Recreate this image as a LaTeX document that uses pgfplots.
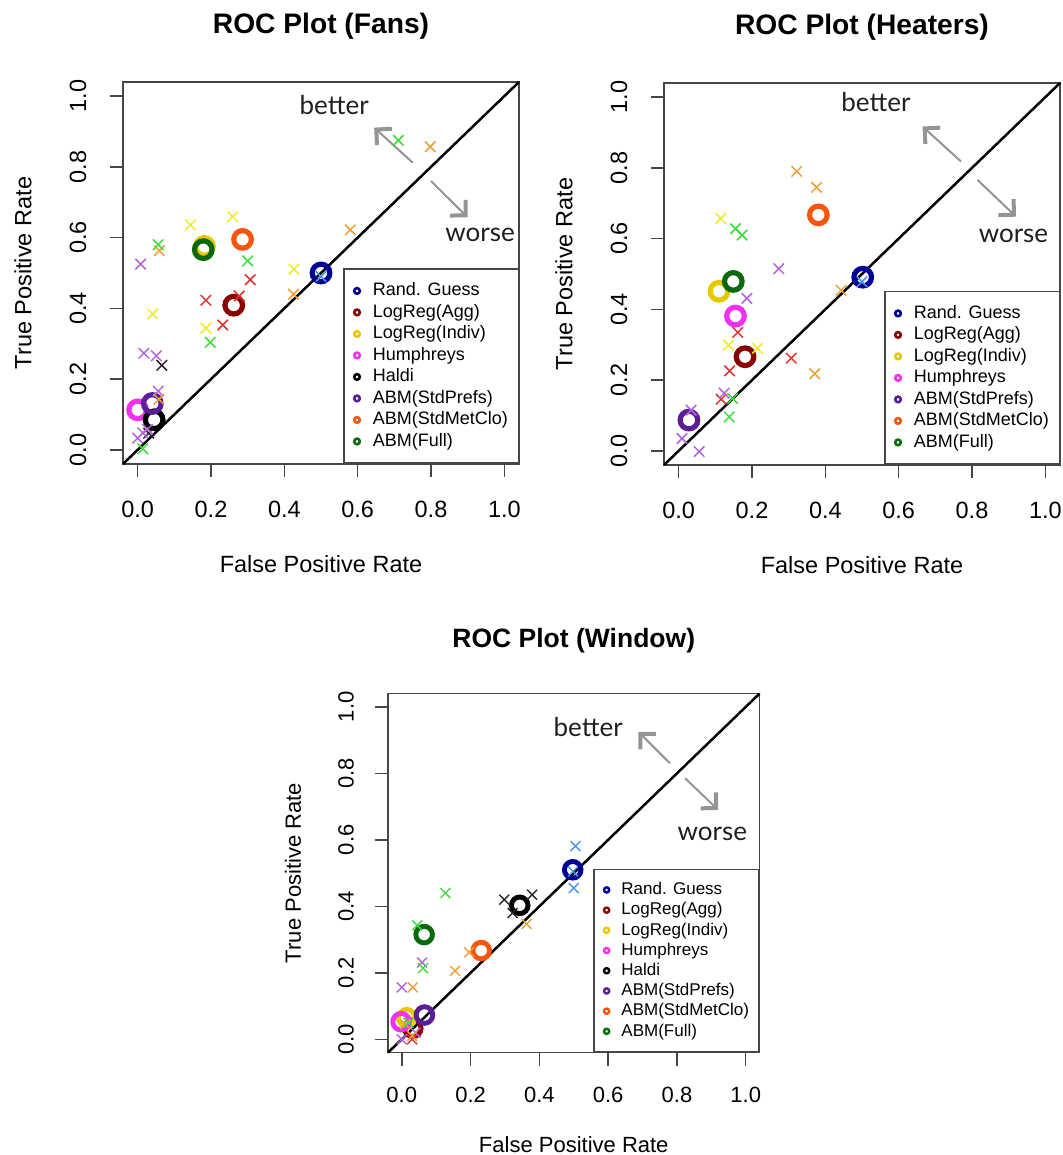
\documentclass[border=0pt]{standalone}
\usepackage{fontspec}
\setmainfont{Liberation Sans}
\newfontfamily\lightfont{Lato}
\usepackage{pgfplots}
\pgfplotsset{compat=1.18}
\usetikzlibrary{arrows.meta}

\definecolor{cRand}{RGB}{0,0,150}
\definecolor{cAgg}{RGB}{139,0,0}
\definecolor{cInd}{RGB}{230,200,0}
\definecolor{cHum}{RGB}{240,50,240}
\definecolor{cHal}{RGB}{0,0,0}
\definecolor{cPref}{RGB}{90,30,150}
\definecolor{cMet}{RGB}{245,85,15}
\definecolor{cFull}{RGB}{10,105,10}
\definecolor{xRand}{RGB}{70,150,230}
\definecolor{xAgg}{RGB}{220,50,50}
\definecolor{xInd}{RGB}{238,235,40}
\definecolor{xHal}{RGB}{40,40,40}
\definecolor{xPref}{RGB}{180,100,220}
\definecolor{xMet}{RGB}{235,160,60}
\definecolor{xFull}{RGB}{60,220,60}
\definecolor{boxc}{RGB}{70,70,70}

\pgfplotsset{
  roc/.style={
    scale only axis, xmin=-0.04, xmax=1.04, ymin=-0.04, ymax=1.04,
    xtick={0,0.2,0.4,0.6,0.8,1}, ytick={0,0.2,0.4,0.6,0.8,1},
    xticklabels={}, yticklabels={},
    tick align=outside, tick pos=left, major tick length=6.5pt,
    axis line style={draw=boxc, line width=0.75pt},
    tick style={draw=boxc, line width=0.75pt},
    clip=false,
    legend cell align=left,
    legend style={at={(rel axis cs:1,0)}, anchor=south east, draw=boxc,
      line width=0.75pt, fill=white, font=\fontsize{9}{10}\selectfont,
      inner xsep=5.2pt, inner ysep=6.4pt, row sep=1.75pt, column sep=6.5pt,
      nodes={inner sep=0pt, text height=7pt, text depth=2pt}},
    legend image code/.code={\draw[mark size=1.4pt, line width=1.3pt] plot coordinates {(0cm,0cm)};},
  },
  roc3/.style={
    legend style={font=\fontsize{8.5}{9.5}\selectfont,
      inner xsep=4.9pt, inner ysep=6pt, row sep=1.6pt, column sep=6.1pt,
      nodes={inner sep=0pt, text height=6.6pt, text depth=1.9pt}},
    legend image code/.code={\draw[mark size=1.3pt, line width=1.2pt] plot coordinates {(0cm,0cm)};},
  },
  circ/.style={only marks, mark=o, mark size=4.4pt, line width=2.6pt, color=#1},
  crs/.style={only marks, mark=x, mark size=3.7pt, line width=0.75pt, color=#1, forget plot},
  circs/.style={only marks, mark=o, mark size=4.15pt, line width=2.45pt, color=#1},
  crss/.style={only marks, mark=x, mark size=3.5pt, line width=0.7pt, color=#1, forget plot},
  diag/.style={black, line width=1.25pt, forget plot},
}
\tikzset{
  arr/.style={draw=black!42, line width=1pt, -{Straight Barb[length=5.5pt,width=11pt,line width=2pt]}},
  bw/.style={font=\lightfont\fontsize{13}{15}\selectfont, text=black!88},
}

\begin{document}
\begin{tikzpicture}
\useasboundingbox (0,0) rectangle (531.5pt,577.5pt);

%% ---------------- Fans ----------------
\begin{axis}[roc, at={(61.5pt,345.5pt)}, anchor=south west, width=198pt, height=191pt,
  title={ROC Plot (Fans)}, title style={at={(axis description cs:0.5,1.115)}, anchor=center, font=\fontsize{14.1}{17}\selectfont\bfseries},
  xlabel={False Positive Rate}, xlabel style={at={(axis description cs:0.5,-0.2618)}, anchor=center, font=\fontsize{11.75}{14}\selectfont},
  ylabel={True Positive Rate}, ylabel style={at={(axis description cs:-0.2525,0.5)}, anchor=center, font=\fontsize{11.75}{14}\selectfont}]
\addplot[diag] coordinates {(-0.04,-0.04) (1.04,1.04)};
\addplot[circ=cRand] coordinates {(0.5,0.5)}; \addlegendentry{Rand. Guess}
\addplot[crs=xRand] coordinates {(0.5,0.49)};
\addplot[circ=cAgg] coordinates {(0.262,0.409)}; \addlegendentry{LogReg(Agg)}
\addplot[crs=xAgg] coordinates {(0.307,0.481) (0.186,0.423) (0.277,0.435) (0.232,0.353)};
\addplot[circ=cInd] coordinates {(0.182,0.575)}; \addlegendentry{LogReg(Indiv)}
\addplot[crs=xInd] coordinates {(0.144,0.636) (0.259,0.659) (0.426,0.511) (0.041,0.384) (0.186,0.344)};
\addplot[circ=cHum] coordinates {(0.0,0.113)}; \addlegendentry{Humphreys}
\addplot[circ=cHal] coordinates {(0.045,0.085)}; \addlegendentry{Haldi}
\addplot[crs=xHal] coordinates {(0.066,0.239) (0.03,0.047)};
\addplot[circ=cPref] coordinates {(0.04,0.131)}; \addlegendentry{ABM(StdPrefs)}
\addplot[crs=xPref] coordinates {(0.008,0.525) (0.017,0.273) (0.051,0.266) (0.056,0.166) (0.0,0.033) (0.014,0.048) (0.027,0.058)};
\addplot[circ=cMet] coordinates {(0.286,0.595)}; \addlegendentry{ABM(StdMetClo)}
\addplot[crs=xMet] coordinates {(0.798,0.857) (0.58,0.622) (0.059,0.563) (0.425,0.440) (0.058,0.143)};
\addplot[circ=cFull] coordinates {(0.179,0.566)}; \addlegendentry{ABM(Full)}
\addplot[crs=xFull] coordinates {(0.711,0.875) (0.056,0.580) (0.30,0.534) (0.198,0.304) (0.014,0.003)};
\pgfplotsinvokeforeach{0.0,0.2,0.4,0.6,0.8,1.0}{
  \node[font=\fontsize{11.75}{14}\selectfont, anchor=center] at (axis cs:#1,-0.1672) {#1};
  \node[font=\fontsize{11.75}{14}\selectfont, anchor=center, rotate=90] at (axis cs:-0.1627,#1) {#1};
}
\draw[arr] (axis cs:0.75,0.812) -- (axis cs:0.645,0.911);
\draw[arr] (axis cs:0.80,0.76) -- (axis cs:0.90,0.657);
\node[bw] at (axis cs:0.536,0.975) {better};
\node[bw] at (axis cs:0.934,0.608) {worse};
\end{axis}

%% ---------------- Heaters ----------------
\begin{axis}[roc, at={(332pt,345pt)}, anchor=south west, width=198pt, height=191pt,
  title={ROC Plot (Heaters)}, title style={at={(axis description cs:0.5,1.115)}, anchor=center, font=\fontsize{14.1}{17}\selectfont\bfseries},
  xlabel={False Positive Rate}, xlabel style={at={(axis description cs:0.5,-0.2618)}, anchor=center, font=\fontsize{11.75}{14}\selectfont},
  ylabel={True Positive Rate}, ylabel style={at={(axis description cs:-0.2525,0.5)}, anchor=center, font=\fontsize{11.75}{14}\selectfont}]
\addplot[diag] coordinates {(-0.04,-0.04) (1.04,1.04)};
\addplot[circ=cRand] coordinates {(0.502,0.491)}; \addlegendentry{Rand. Guess}
\addplot[crs=xRand] coordinates {(0.5,0.478)};
\addplot[circ=cAgg] coordinates {(0.181,0.266)}; \addlegendentry{LogReg(Agg)}
\addplot[crs=xAgg] coordinates {(0.161,0.335) (0.307,0.262) (0.139,0.226) (0.116,0.146)};
\addplot[circ=cInd] coordinates {(0.11,0.451)}; \addlegendentry{LogReg(Indiv)}
\addplot[crs=xInd] coordinates {(0.115,0.657) (0.136,0.299) (0.215,0.29)};
\addplot[circ=cHum] coordinates {(0.155,0.381)}; \addlegendentry{Humphreys}
\addplot[circ=cPref] coordinates {(0.028,0.087)}; \addlegendentry{ABM(StdPrefs)}
\addplot[crs=xPref] coordinates {(0.273,0.515) (0.186,0.431) (0.124,0.163) (0.034,0.115) (0.009,0.035) (0.056,-0.002)};
\addplot[circ=cMet] coordinates {(0.381,0.667)}; \addlegendentry{ABM(StdMetClo)}
\addplot[crs=xMet] coordinates {(0.322,0.79) (0.376,0.745) (0.443,0.454) (0.371,0.218)};
\addplot[circ=cFull] coordinates {(0.149,0.479)}; \addlegendentry{ABM(Full)}
\addplot[crs=xFull] coordinates {(0.155,0.628) (0.173,0.610) (0.147,0.148) (0.138,0.096)};
\pgfplotsinvokeforeach{0.0,0.2,0.4,0.6,0.8,1.0}{
  \node[font=\fontsize{11.75}{14}\selectfont, anchor=center] at (axis cs:#1,-0.1672) {#1};
  \node[font=\fontsize{11.75}{14}\selectfont, anchor=center, rotate=90] at (axis cs:-0.1627,#1) {#1};
}
\draw[arr] (axis cs:0.77,0.818) -- (axis cs:0.665,0.917);
\draw[arr] (axis cs:0.815,0.766) -- (axis cs:0.92,0.662);
\node[bw] at (axis cs:0.538,0.985) {better};
\node[bw] at (axis cs:0.913,0.608) {worse};
\end{axis}

%% ---------------- Window ----------------
\begin{axis}[roc, roc3, at={(194pt,51.2pt)}, anchor=south west, width=185.75pt, height=179.5pt,
  title={ROC Plot (Window)}, title style={at={(axis description cs:0.5,1.113)}, anchor=center, font=\fontsize{13.25}{16}\selectfont\bfseries},
  xlabel={False Positive Rate}, xlabel style={at={(axis description cs:0.5,-0.2562)}, anchor=center, font=\fontsize{11}{13}\selectfont},
  ylabel={True Positive Rate}, ylabel style={at={(axis description cs:-0.2557,0.5)}, anchor=center, font=\fontsize{11}{13}\selectfont}]
\addplot[diag] coordinates {(-0.04,-0.04) (1.04,1.04)};
\addplot[circs=cRand] coordinates {(0.497,0.51)}; \addlegendentry{Rand. Guess}
\addplot[crss=xRand] coordinates {(0.505,0.581) (0.5,0.455) (0.498,0.505)};
\addplot[circs=cAgg] coordinates {(0.032,0.033)}; \addlegendentry{LogReg(Agg)}
\addplot[crss=xAgg] coordinates {(0.03,0.0)};
\addplot[circs=cInd] coordinates {(0.014,0.065)}; \addlegendentry{LogReg(Indiv)}
\addplot[crss=xInd] coordinates {(0.02,0.06)};
\addplot[circs=cHum] coordinates {(-0.002,0.053)}; \addlegendentry{Humphreys}
\addplot[circs=cHal] coordinates {(0.343,0.403)}; \addlegendentry{Haldi}
\addplot[crss=xHal] coordinates {(0.298,0.42) (0.379,0.435) (0.322,0.38)};
\addplot[circs=cPref] coordinates {(0.066,0.073)}; \addlegendentry{ABM(StdPrefs)}
\addplot[crss=xPref] coordinates {(0.059,0.231) (0.0,0.156) (0.0,0.0) (0.04,0.02)};
\addplot[circs=cMet] coordinates {(0.231,0.267)}; \addlegendentry{ABM(StdMetClo)}
\addplot[crss=xMet] coordinates {(0.363,0.347) (0.196,0.262) (0.155,0.206) (0.032,0.156) (0.03,0.01) (0.01,0.045)};
\addplot[circs=cFull] coordinates {(0.065,0.315)}; \addlegendentry{ABM(Full)}
\addplot[crss=xFull] coordinates {(0.127,0.44) (0.045,0.343) (0.062,0.214) (0.02,0.05)};
\pgfplotsinvokeforeach{0.0,0.2,0.4,0.6,0.8,1.0}{
  \node[font=\fontsize{11}{13}\selectfont, anchor=center] at (axis cs:#1,-0.1664) {#1};
  \node[font=\fontsize{11}{13}\selectfont, anchor=center, rotate=90] at (axis cs:-0.162,#1) {#1};
}
\draw[arr] (axis cs:0.78,0.83) -- (axis cs:0.688,0.925);
\draw[arr] (axis cs:0.824,0.785) -- (axis cs:0.92,0.69);
\node[bw] at (axis cs:0.542,0.94) {better};
\node[bw] at (axis cs:0.903,0.617) {worse};
\end{axis}
\end{tikzpicture}
\end{document}
